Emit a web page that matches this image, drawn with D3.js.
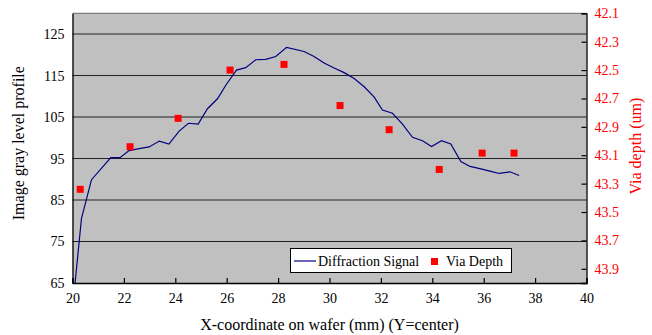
<!DOCTYPE html>
<html>
<head>
<meta charset="utf-8">
<script src="https://cdn.jsdelivr.net/npm/d3@7"></script>
<style>
  html, body { margin: 0; padding: 0; background: #fff; }
  svg, svg text { font-family: "Liberation Serif", "Times New Roman", serif !important; }
  svg { display: block; }
</style>
</head>
<body>
<svg id="chart" width="652" height="335"></svg>
<script>
// ---- data ----
const signalX = [20.1, 20.35, 20.74, 21.49, 21.85, 22.2, 22.59, 22.98, 23.38, 23.75, 24.15, 24.51, 24.89, 25.25, 25.64, 25.99, 26.38, 26.74, 27.13, 27.52, 27.91, 28.33, 29.01, 29.4, 29.79, 30.18, 30.57, 30.96, 31.35, 31.74, 32.06, 32.45, 32.84, 33.23, 33.62, 33.97, 34.36, 34.72, 35.11, 35.47, 35.89, 36.28, 36.6, 37.02, 37.38];
const signalY = [65, 80.6, 89.9, 95.2, 95.2, 96.9, 97.4, 97.8, 99.2, 98.5, 101.6, 103.5, 103.3, 107.0, 109.4, 112.9, 116.3, 116.9, 118.8, 118.9, 119.6, 121.8, 120.8, 119.6, 118.0, 116.8, 115.7, 114.3, 112.3, 109.8, 106.7, 105.9, 103.3, 100.1, 99.3, 97.9, 99.3, 98.5, 94.3, 93.1, 92.5, 91.9, 91.4, 91.8, 90.9];
const depthX = [20.3, 22.24, 24.11, 26.13, 28.23, 30.41, 32.32, 34.27, 35.94, 37.18];
const depthY = [43.34, 43.04, 42.84, 42.50, 42.46, 42.75, 42.92, 43.20, 43.085, 43.085];
const xTicks = [20, 22, 24, 26, 28, 30, 32, 34, 36, 38, 40];
const leftTicks = [65, 75, 85, 95, 105, 115, 125];
const rightTicks = [42.1, 42.3, 42.5, 42.7, 42.9, 43.1, 43.3, 43.5, 43.7, 43.9];
const seriesNames = ["Diffraction Signal", "Via Depth"];

// ---- layout ----
const L = 72.5, R = 586.5, T = 13.3, B = 283;
const FONT = "'Liberation Serif', 'Times New Roman', serif";
const svg = d3.select("#chart");
const x = d3.scaleLinear().domain([20, 40]).range([L, R]);
const yL = d3.scaleLinear().domain([65, 130]).range([B, T]);
const yR = d3.scaleLinear().domain([42.1, 44.0]).range([T, B]);

// plot background
svg.append("rect").attr("x", L).attr("y", T).attr("width", R - L).attr("height", B - T).attr("fill", "#c0c0c0");

// gridlines
svg.append("g").selectAll("line").data(leftTicks.filter(d => d > 65)).join("line")
  .attr("x1", L).attr("x2", R).attr("y1", d => yL(d)).attr("y2", d => yL(d))
  .attr("stroke", "#222").attr("stroke-width", 1);

// top border
svg.append("line").attr("x1", L).attr("x2", R).attr("y1", T).attr("y2", T).attr("stroke", "#666").attr("stroke-width", 1);

svg.append("clipPath").attr("id", "clip").append("rect")
  .attr("x", L).attr("y", T).attr("width", R - L).attr("height", B - T);

// line
const lineData = signalX.map((v, i) => [v, signalY[i]]);
svg.append("path").datum(lineData)
  .attr("clip-path", "url(#clip)")
  .attr("d", d3.line().x(d => x(d[0])).y(d => yL(d[1])))
  .attr("fill", "none").attr("stroke", "#000080").attr("stroke-width", 1.2);

// squares
const sq = 7;
svg.append("g").selectAll("rect").data(depthX.map((v, i) => [v, depthY[i]])).join("rect")
  .attr("x", d => x(d[0]) - sq / 2).attr("y", d => yR(d[1]) - sq / 2)
  .attr("width", sq).attr("height", sq).attr("fill", "#ff0000");

function styleAxis(g, color) {
  g.attr("font-family", null);
  g.select(".domain").attr("stroke", "#000").attr("stroke-width", 1.3);
  g.selectAll(".tick line").attr("stroke", "#000").attr("stroke-width", 1.2);
  g.selectAll("text").attr("font-size", 14).attr("fill", color).style("font-family", FONT);
}

// axes
const gx = svg.append("g").attr("transform", `translate(0,${B})`)
  .call(d3.axisBottom(x).tickValues(xTicks).tickSize(-5).tickPadding(10).tickFormat(d3.format("d")));
styleAxis(gx, "#000");

const gyl = svg.append("g").attr("transform", `translate(${L},0)`)
  .call(d3.axisLeft(yL).tickValues(leftTicks).tickSize(0).tickPadding(8).tickFormat(d3.format("d")));
styleAxis(gyl, "#000");

const gyr = svg.append("g").attr("transform", `translate(${R},0)`)
  .call(d3.axisRight(yR).tickValues(rightTicks).tickSize(-5).tickPadding(8).tickFormat(d3.format(".1f")));
styleAxis(gyr, "#ff0000");

// titles
svg.append("text").attr("x", (L + R) / 2).attr("y", 330).attr("text-anchor", "middle")
  .attr("font-size", 16).attr("fill", "#000").text("X-coordinate on wafer (mm) (Y=center)");
svg.append("text").attr("transform", `translate(24,${(T + B) / 2 - 5}) rotate(-90)`).attr("text-anchor", "middle")
  .attr("font-size", 16).attr("fill", "#000").text("Image gray level profile");
svg.append("text").attr("transform", `translate(641,${(T + B) / 2 - 2}) rotate(-90)`).attr("text-anchor", "middle")
  .attr("font-size", 16).attr("fill", "#ff0000").text("Via depth (um)");

// legend
const lg = svg.append("g");
lg.append("rect").attr("x", 290.5).attr("y", 248.5).attr("width", 221).attr("height", 24)
  .attr("fill", "#fff").attr("stroke", "#000").attr("stroke-width", 1);
lg.append("line").attr("x1", 294).attr("x2", 316).attr("y1", 261).attr("y2", 261)
  .attr("stroke", "#000080").attr("stroke-width", 1.2);
lg.append("text").attr("x", 318).attr("y", 266).attr("font-size", 14).attr("fill", "#000").text(seriesNames[0]);
lg.append("rect").attr("x", 431).attr("y", 258).attr("width", sq).attr("height", sq).attr("fill", "#ff0000");
lg.append("text").attr("x", 446).attr("y", 266).attr("font-size", 14).attr("fill", "#000").text(seriesNames[1]);
</script>
</body>
</html>
